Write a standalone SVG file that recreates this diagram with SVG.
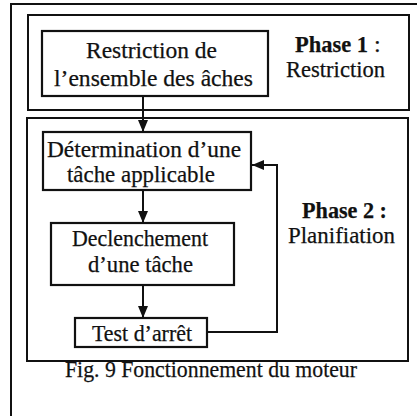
<svg xmlns="http://www.w3.org/2000/svg" width="417" height="416" viewBox="0 0 417 416">
<defs>
<style>
.frame{fill:none;stroke:#111;stroke-width:2}
.box{fill:#fff;stroke:#111;stroke-width:2.2}
.t{font-family:'Liberation Serif','Times New Roman',serif;font-size:24px;fill:#111;text-anchor:middle;stroke:#111;stroke-width:0.25}
.s{text-anchor:start}
.b{font-weight:bold}
.conn{fill:none;stroke:#111;stroke-width:2}
</style>
<marker id="ah" markerUnits="userSpaceOnUse" markerWidth="12" markerHeight="12" viewBox="0 0 12 12" refX="12" refY="6" orient="auto">
<path d="M0,1 L12,6 L0,11 Z" fill="#111"/>
</marker>
</defs>
<rect width="417" height="416" fill="#fff"/>
<path class="frame" d="M417,4 H11 V416"/>
<g id="phase1">
<rect class="frame" x="28" y="15" width="381" height="95"/>
<text class="t s b" x="295" y="52" textLength="73" lengthAdjust="spacingAndGlyphs">Phase 1</text>
<text class="t s" x="374" y="52">:</text>
<text class="t" x="335.5" y="77" textLength="99" lengthAdjust="spacingAndGlyphs">Restriction</text>
</g>
<g id="phase2">
<rect class="frame" x="27" y="118" width="381" height="243"/>
<text class="t b" x="344.5" y="218" textLength="85" lengthAdjust="spacingAndGlyphs">Phase 2 :</text>
<text class="t" x="341.5" y="243" textLength="107" lengthAdjust="spacingAndGlyphs">Planifiation</text>
</g>
<g id="connectors">
<line class="conn" x1="143" y1="96" x2="143" y2="132" marker-end="url(#ah)"/>
<line class="conn" x1="143" y1="190" x2="143" y2="223" marker-end="url(#ah)"/>
<line class="conn" x1="143" y1="285" x2="143" y2="318" marker-end="url(#ah)"/>
<path class="conn" d="M207,332 H277 V165 H252" marker-end="url(#ah)"/>
</g>
<g id="restriction">
<rect class="box" x="42" y="31" width="226" height="65"/>
<text class="t" x="151.5" y="58" textLength="131" lengthAdjust="spacingAndGlyphs">Restriction de</text>
<text class="t" x="153.5" y="86" textLength="199" lengthAdjust="spacingAndGlyphs">l’ensemble des âches</text>
</g>
<g id="determination">
<rect class="box" x="43" y="132" width="208" height="58"/>
<text class="t" x="144" y="157" textLength="194" lengthAdjust="spacingAndGlyphs">Détermination d’une</text>
<text class="t" x="141" y="182" textLength="148" lengthAdjust="spacingAndGlyphs">tâche applicable</text>
</g>
<g id="declenchement">
<rect class="box" x="51" y="223" width="183" height="62"/>
<text class="t" x="140" y="246" textLength="136" lengthAdjust="spacingAndGlyphs">Declenchement</text>
<text class="t" x="140.5" y="272" textLength="105" lengthAdjust="spacingAndGlyphs">d’une tâche</text>
</g>
<g id="test">
<rect class="box" x="75" y="318" width="132" height="29"/>
<text class="t" x="142" y="341" textLength="100" lengthAdjust="spacingAndGlyphs">Test d’arrêt</text>
</g>
<text class="t" x="211" y="377" textLength="292" lengthAdjust="spacingAndGlyphs">Fig. 9 Fonctionnement du moteur</text>
</svg>
